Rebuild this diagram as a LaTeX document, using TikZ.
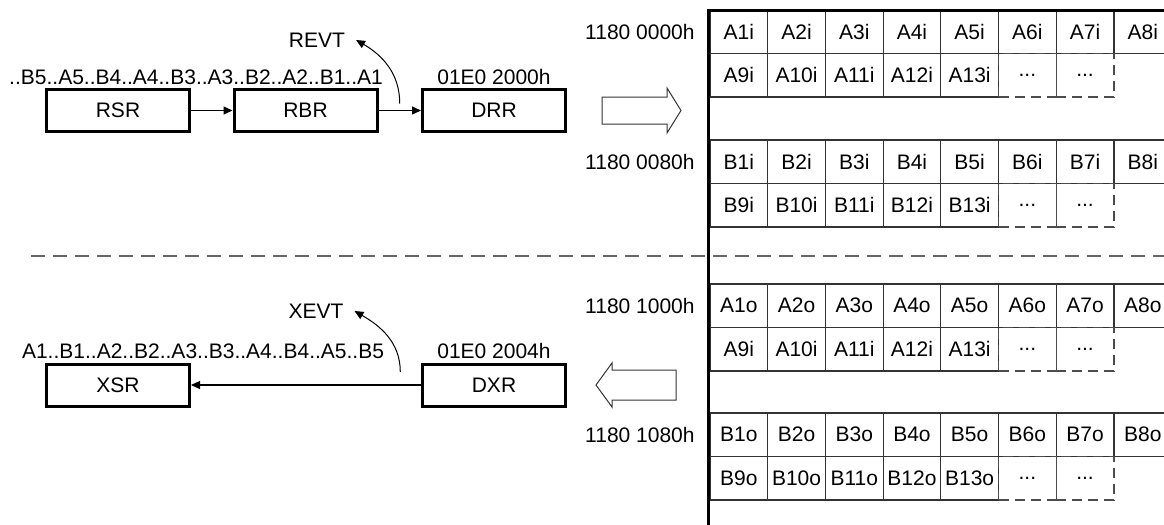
\documentclass[tikz,border=0pt]{standalone}
\usepackage{fontspec}
\setmainfont{Liberation Sans}
\usetikzlibrary{arrows.meta}

\begin{document}
\begin{tikzpicture}[
    x=0.5pt, y=-0.5pt,
    every node/.style={font=\fontsize{10.5}{12.5}\selectfont},
    reg/.style={rectangle, draw, line width=1.5pt, minimum width=71.5pt, minimum height=21pt},
    cell/.style={rectangle, draw=black!80, line width=0.6pt, minimum width=28.85pt, minimum height=21.75pt, inner sep=0pt},
    gapcell/.style={cell, draw=black!70, dash pattern=on 5pt off 3pt},
    addr/.style={anchor=east, inner sep=2pt},
    arr/.style={-{Triangle[length=4.5pt, width=4pt]}, line width=0.6pt},
    evt_arr/.style={-{Triangle[length=4.5pt, width=4pt]}, line width=0.5pt},
    hollow/.style={draw=black!80, line width=0.5pt},
    sep/.style={draw=black!60, line width=0.8pt, dash pattern=on 7pt off 4pt}
]
    \useasboundingbox (0,0) rectangle (1164,525);

    % Receive side
    \node[reg] (rsr) at (118,110.5) {RSR};
    \node[reg] (rbr) at (305.5,110.5) {RBR};
    \node[reg] (drr) at (494,110.5) {DRR};
    \node (rseq) at (196,77) {..B5..A5..B4..A4..B3..A3..B2..A2..B1..A1};
    \node (draddr) at (494,77) {01E0 2000h};
    \node (revt) at (317,40) {REVT};

    \draw[arr] (rsr) -- (rbr);
    \draw[arr] (rbr) -- coordinate[pos=0.5] (rtap) (drr);
    \draw[evt_arr] ([yshift=3.5pt]rtap) to[out=90, in=-30] ([xshift=2pt]revt.east);

    % Transmit side
    \node[reg] (xsr) at (118,385) {XSR};
    \node[reg] (dxr) at (494,385) {DXR};
    \node (xseq) at (203,351) {A1..B1..A2..B2..A3..B3..A4..B4..A5..B5};
    \node (dxaddr) at (494,351) {01E0 2004h};
    \node (xevt) at (316,311) {XEVT};

    \draw[arr] (dxr) -- coordinate[pos=0.09] (xtap) (xsr);
    \draw[evt_arr] ([yshift=6.5pt]xtap) to[out=90, in=-30] ([xshift=2pt]xevt.east);

    % Hollow transfer arrows
    \draw[hollow] (602,97) -- (667,97) -- (667,88) -- (681,110.5) -- (667,133)
        -- (667,124) -- (602,124) -- cycle;
    \draw[hollow] (676,370) -- (612,370) -- (612,363) -- (596,385) -- (612,407)
        -- (612,400) -- (676,400) -- cycle;

    % Separator
    \draw[sep] (31,256) -- (1164,256);

    % Memory buffers
    \foreach \blk/\y/\p/\q/\r/\adr in {a/10/A/i/i/1180 0000h, b/140/B/i/i/1180 0080h,
                                      c/284/A/o/i/1180 1000h, d/413/B/o/o/1180 1080h} {
        \node[addr] (\blk adr) at (699,{\y+21.75}) {\adr};
        \foreach \k in {1,...,8}
            \node[cell] (\blk\k) at ({710+57.7*(\k-0.5)},{\y+21.75}) {\p\k\q};
        \foreach \k in {9,...,13}
            \node[cell] (\blk\k) at ({710+57.7*(\k-8.5)},{\y+65.25}) {\p\k\r};
        \node[gapcell] (\blk14) at ({710+57.7*5.5},{\y+65.25}) {...};
        \node[gapcell] (\blk15) at ({710+57.7*6.5},{\y+65.25}) {...};
    }
    \draw[line width=1.5pt] (708,525) -- (708,10) -- (1164,10);
\end{tikzpicture}
\end{document}
